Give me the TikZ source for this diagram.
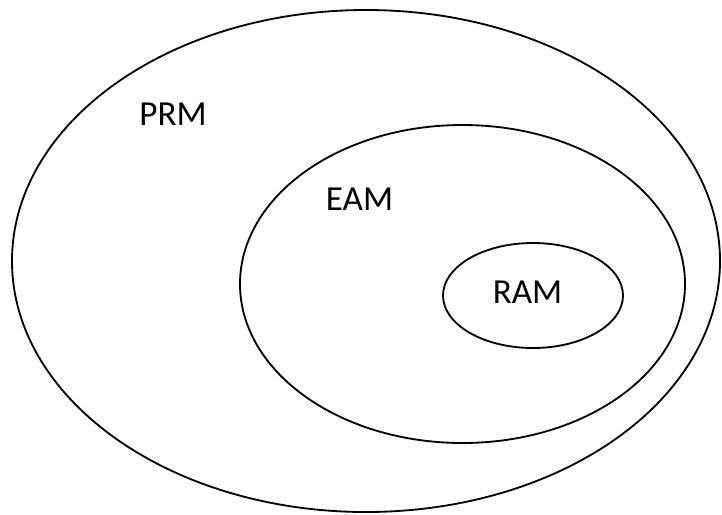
\documentclass[tikz,border=0pt]{standalone}
\usepackage{fontspec}
\setmainfont{Carlito}
\begin{document}
\begin{tikzpicture}[x=.025cm,y=-.025cm]
		\useasboundingbox (0,0) rectangle (722,514);
		\tikzset{set/.style={line width=1.3pt}, lbl/.style={font=\fontsize{25}{27}\selectfont}}
		
		\draw [set] (366,261) ellipse (354 and 251); \node [lbl] (prm) at (173,114) {PRM};
		\draw [set] (462.5,284) ellipse (222.5 and 159); \node [lbl] (eam) at (359.5,199) {EAM};
		\draw [set] (533,295.5) ellipse (90 and 52.5); \node [lbl] (ram) at (527.5,292) {RAM};
		\end{tikzpicture}
\end{document}
